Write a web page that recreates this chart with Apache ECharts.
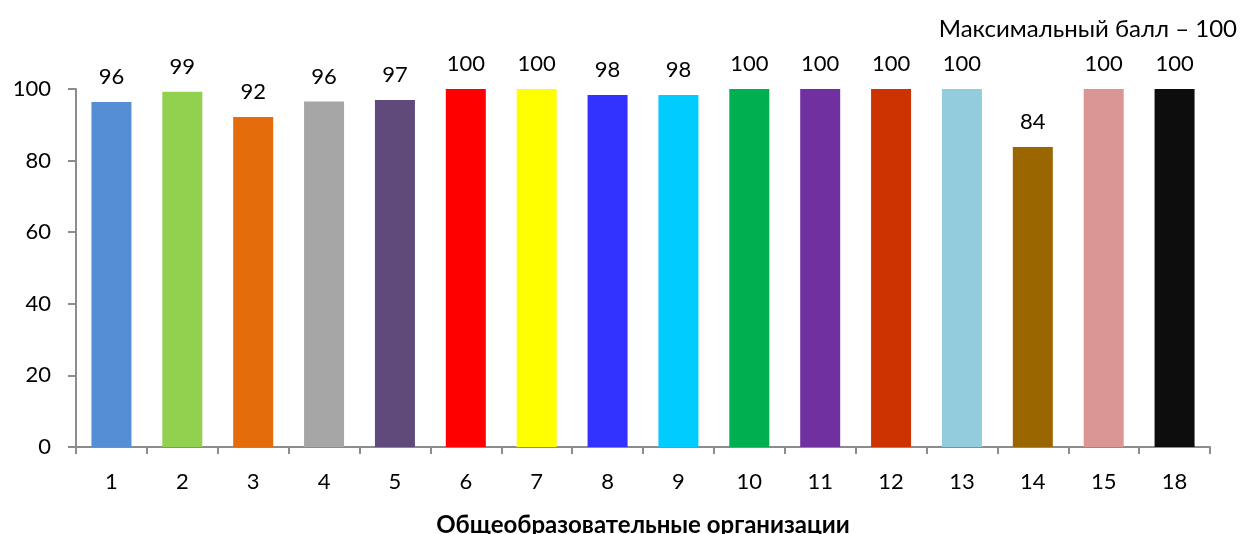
<!DOCTYPE html>
<html>
<head>
<meta charset="utf-8">
<script src="https://cdn.jsdelivr.net/npm/echarts@6/dist/echarts.min.js"></script>
<style>html,body{margin:0;padding:0;background:#fff}#c{width:1243px;height:534px}</style>
</head>
<body>
<div id="c"></div>
<script>
const categories = ['1','2','3','4','5','6','7','8','9','10','11','12','13','14','15','18'];
const values = [96.4, 99.2, 92.2, 96.5, 96.9, 100, 100, 98.3, 98.3, 100, 100, 100, 100, 83.8, 100, 100];
const labels = ['96','99','92','96','97','100','100','98','98','100','100','100','100','84','100','100'];
const colors = ['#558ED5','#92D050','#E46C0A','#A6A6A6','#604A7B','#FF0000','#FFFF00','#3333FF','#00CCFF','#00B050','#7030A0','#CC3300','#93CDDD','#996600','#D99694','#0D0D0D'];
const yTicks = [0, 20, 40, 60, 80, 100];
const titleText = 'Максимальный балл – 100';
const xName = 'Общеобразовательные организации';

const font = 'Lato, "Open Sans", sans-serif';
const chart = echarts.init(document.getElementById('c'), null, {renderer: 'canvas'});
chart.setOption({
  animation: false,
  title: {
    text: titleText, right: 1, top: 12,
    textStyle: {fontFamily: font, fontSize: 24, fontWeight: 'normal', color: '#000'}
  },
  grid: {left: 76, right: 33, top: 89, bottom: 87, containLabel: false, outerBoundsMode: 'none'},
  xAxis: {
    type: 'category', data: categories,
    name: xName, nameLocation: 'middle', nameGap: 66,
    nameTextStyle: {fontFamily: font, fontSize: 24, fontWeight: 'bold', color: '#000'},
    axisLine: {lineStyle: {color: '#8c8c8c', width: 2}},
    axisTick: {show: true, length: 7, lineStyle: {color: '#8c8c8c', width: 2}},
    axisLabel: {fontFamily: font, fontSize: 22, color: '#000', margin: 24}
  },
  yAxis: {
    type: 'value', min: yTicks[0], max: yTicks[yTicks.length-1], interval: 20,
    splitLine: {show: false},
    axisLine: {show: true, lineStyle: {color: '#8c8c8c', width: 2}},
    axisTick: {show: true, length: 8, lineStyle: {color: '#8c8c8c', width: 2}},
    axisLabel: {fontFamily: font, fontSize: 22, color: '#000', margin: 25}
  },
  series: [{
    type: 'bar', barWidth: 40,
    data: values.map((v, i) => ({value: v, itemStyle: {color: colors[i]}})),
    label: {
      show: true, position: 'top', distance: 14,
      fontFamily: font, fontSize: 22, color: '#000',
      formatter: p => labels[p.dataIndex]
    }
  }]
});
</script>
</body>
</html>
